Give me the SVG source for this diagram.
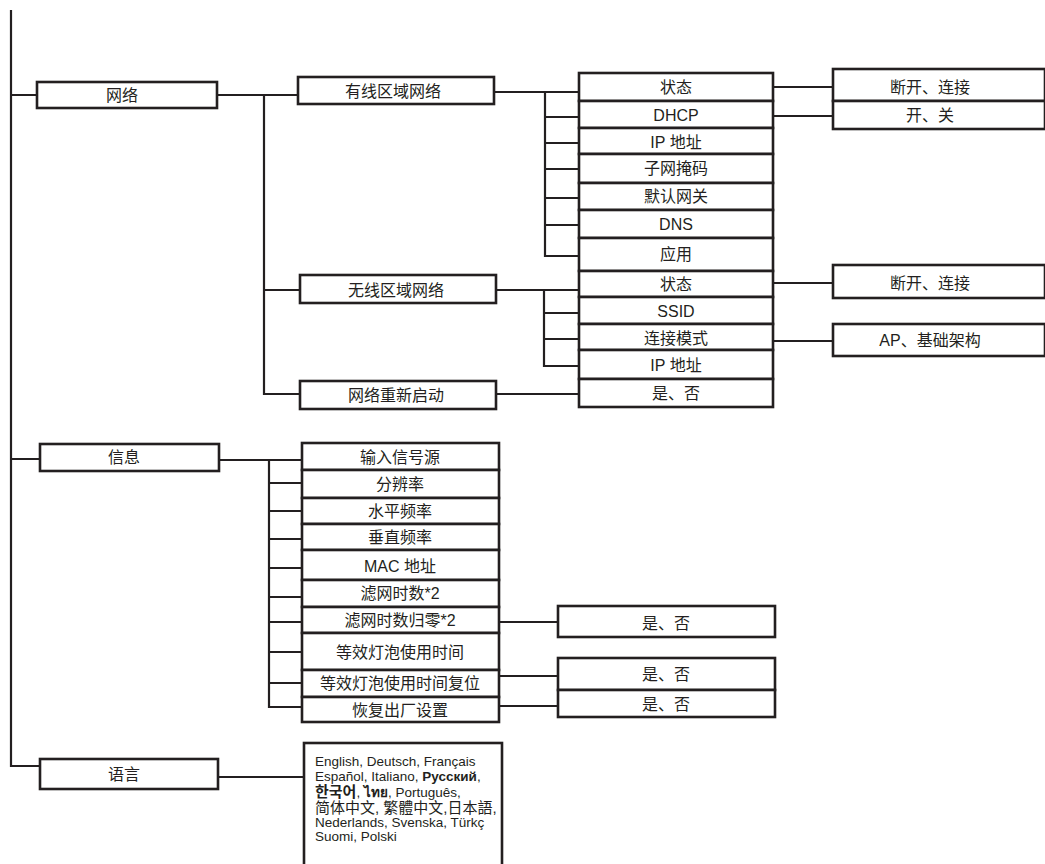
<svg xmlns="http://www.w3.org/2000/svg" width="1045" height="864" viewBox="0 0 1045 864">
<style>
.b{fill:#fff;stroke:#231f20;stroke-width:2.6}
.c{fill:none;stroke:#231f20;stroke-width:2.2}
text{font-family:"Liberation Sans","Noto Sans CJK SC",sans-serif;font-size:16px;fill:#231f20;text-anchor:middle}
.l{font-size:13.5px;text-anchor:start}
.cj{font-size:15px}
.bd{font-weight:bold}
</style>
<rect width="1045" height="864" fill="#fff"/>
<g id="connectors">
<path class="c" d="M11,10 V766 H40 M11,95 H37 M11,459 H40"/>
<path class="c" d="M217,95 H298 M264,95 V394 H300 M264,290 H300"/>
<path class="c" d="M494,92 H579 M545,92 V256 H579 M545,117 H579 M545,143 H579 M545,169 H579 M545,198 H579 M545,225 H579"/>
<path class="c" d="M496,290 H579 M544,290 V366 H579 M544,313 H579 M544,339 H579 M496,394 H579"/>
<path class="c" d="M773,87 H833 M773,116 H833 M773,283 H833 M773,341 H833"/>
<path class="c" d="M219,460 H302 M269,460 V707 H302 M269,483 H302 M269,511 H302 M269,539 H302 M269,568 H302 M269,597 H302 M269,622 H302 M269,652 H302 M269,683 H302"/>
<path class="c" d="M498,622 H558 M498,676 H558 M498,706 H558 M218,777 H304"/>
</g>
<g id="n-network"><rect class="b" x="37" y="82" width="180" height="26"/><text x="122" y="101">网络</text></g>
<g id="n-info"><rect class="b" x="40" y="444" width="179" height="27"/><text x="124" y="463">信息</text></g>
<g id="n-lang"><rect class="b" x="40" y="759" width="178" height="30"/><text x="124" y="780">语言</text></g>
<g id="n-wired"><rect class="b" x="298" y="77" width="196" height="27"/><text x="393" y="97">有线区域网络</text></g>
<g id="n-wireless"><rect class="b" x="300" y="275" width="196" height="28"/><text x="396" y="296">无线区域网络</text></g>
<g id="n-restart"><rect class="b" x="300" y="381" width="196" height="28"/><text x="396" y="401">网络重新启动</text></g>
<g id="n-w-status"><rect class="b" x="579" y="73" width="194" height="28"/><text x="676" y="93">状态</text></g>
<g id="n-w-dhcp"><rect class="b" x="579" y="101" width="194" height="27"/><text x="676" y="121">DHCP</text></g>
<g id="n-w-ip"><rect class="b" x="579" y="128" width="194" height="26"/><text x="676" y="148">IP 地址</text></g>
<g id="n-w-mask"><rect class="b" x="579" y="154" width="194" height="29"/><text x="676" y="174">子网掩码</text></g>
<g id="n-w-gw"><rect class="b" x="579" y="183" width="194" height="27"/><text x="676" y="202">默认网关</text></g>
<g id="n-w-dns"><rect class="b" x="579" y="210" width="194" height="28"/><text x="676" y="230">DNS</text></g>
<g id="n-w-apply"><rect class="b" x="579" y="238" width="194" height="33"/><text x="676" y="260">应用</text></g>
<g id="n-wl-status"><rect class="b" x="579" y="271" width="194" height="26"/><text x="676" y="290">状态</text></g>
<g id="n-wl-ssid"><rect class="b" x="579" y="297" width="194" height="27"/><text x="676" y="317">SSID</text></g>
<g id="n-wl-mode"><rect class="b" x="579" y="324" width="194" height="26"/><text x="676" y="344">连接模式</text></g>
<g id="n-wl-ip"><rect class="b" x="579" y="350" width="194" height="29"/><text x="676" y="371">IP 地址</text></g>
<g id="n-restart-yn"><rect class="b" x="579" y="379" width="194" height="28"/><text x="676" y="399">是、否</text></g>
<g id="n-w-status-v"><rect class="b" x="833" y="69" width="212" height="32"/><text x="930" y="93">断开、连接</text></g>
<g id="n-w-dhcp-v"><rect class="b" x="833" y="101" width="212" height="28"/><text x="930" y="121">开、关</text></g>
<g id="n-wl-status-v"><rect class="b" x="833" y="265" width="212" height="33"/><text x="930" y="289">断开、连接</text></g>
<g id="n-wl-mode-v"><rect class="b" x="833" y="324" width="212" height="32"/><text x="930" y="346">AP、基础架构</text></g>
<g id="n-i-src"><rect class="b" x="302" y="443" width="197" height="27"/><text x="400" y="463">输入信号源</text></g>
<g id="n-i-res"><rect class="b" x="302" y="470" width="197" height="28"/><text x="400" y="490">分辨率</text></g>
<g id="n-i-h"><rect class="b" x="302" y="498" width="197" height="26"/><text x="400" y="517">水平频率</text></g>
<g id="n-i-v"><rect class="b" x="302" y="524" width="197" height="26"/><text x="400" y="543">垂直频率</text></g>
<g id="n-i-mac"><rect class="b" x="302" y="550" width="197" height="30"/><text x="400" y="572">MAC 地址</text></g>
<g id="n-i-filter"><rect class="b" x="302" y="580" width="197" height="27"/><text x="400" y="599">滤网时数*2</text></g>
<g id="n-i-filterreset"><rect class="b" x="302" y="607" width="197" height="26"/><text x="400" y="626">滤网时数归零*2</text></g>
<g id="n-i-lamp"><rect class="b" x="302" y="633" width="197" height="37"/><text x="400" y="658">等效灯泡使用时间</text></g>
<g id="n-i-lampreset"><rect class="b" x="302" y="670" width="197" height="27"/><text x="400" y="689">等效灯泡使用时间复位</text></g>
<g id="n-i-factory"><rect class="b" x="302" y="697" width="197" height="25"/><text x="400" y="716">恢复出厂设置</text></g>
<g id="n-filterreset-yn"><rect class="b" x="558" y="606" width="217" height="31"/><text x="666" y="629">是、否</text></g>
<g id="n-lampreset-yn"><rect class="b" x="558" y="658" width="217" height="32"/><text x="666" y="680">是、否</text></g>
<g id="n-factory-yn"><rect class="b" x="558" y="690" width="217" height="27"/><text x="666" y="710">是、否</text></g>
<g id="n-lang-list"><rect class="b" x="304" y="743" width="198" height="130"/>
<text class="l" x="315" y="766">English, Deutsch, Français</text>
<text class="l" x="315" y="781">Español, Italiano, <tspan class="bd">Русский</tspan>,</text>
<text class="l" x="315" y="797"><tspan class="bd cj">한국어</tspan>, <tspan class="bd">ไทย</tspan>, Português,</text>
<text class="l cj" x="315" y="813">简体中文, 繁體中文,日本語,</text>
<text class="l" x="315" y="827">Nederlands, Svenska, Türkç</text>
<text class="l" x="315" y="841">Suomi, Polski</text>
</g>
</svg>
